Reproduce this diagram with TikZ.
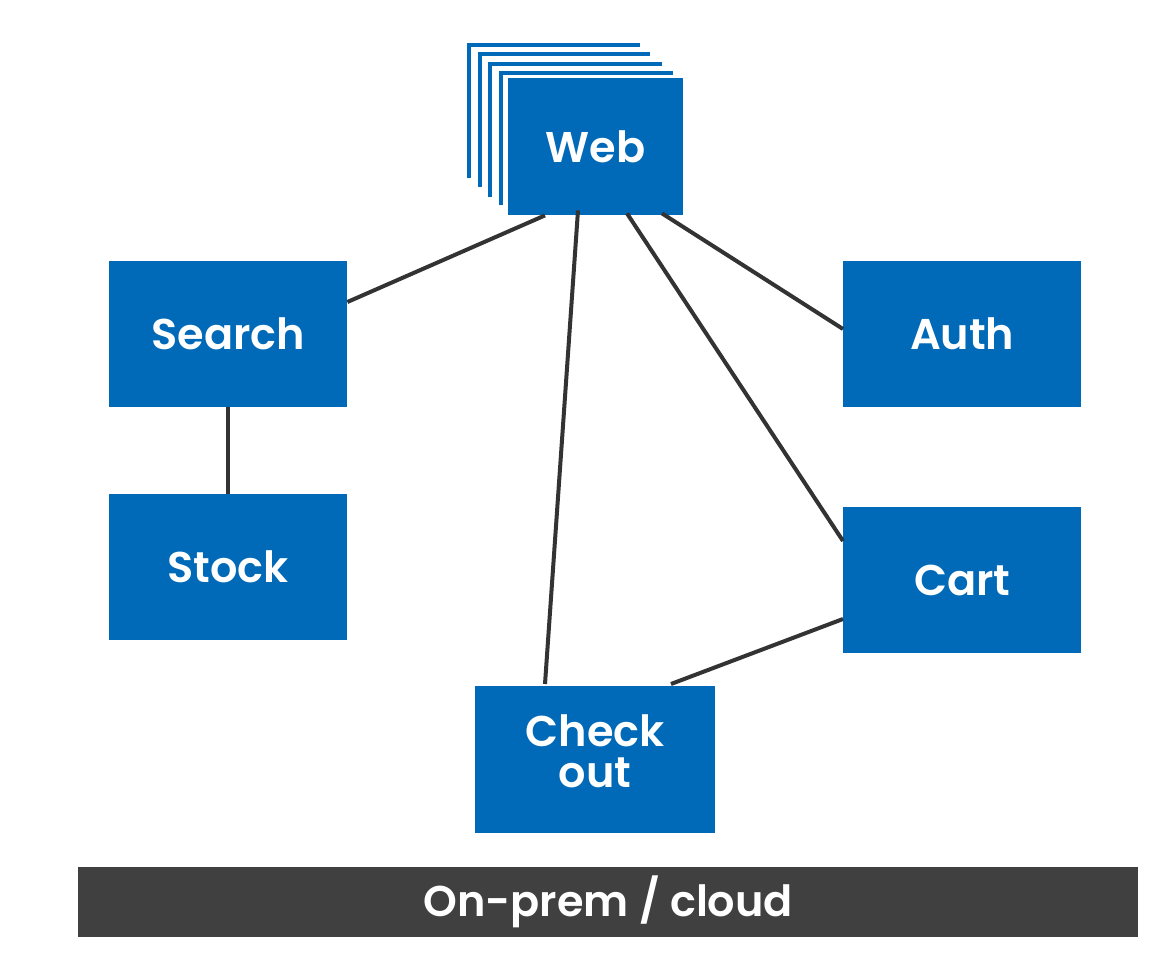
\documentclass[tikz,border=0pt]{standalone}
\usepackage{fontspec}
\setmainfont{Poppins SemiBold}
\definecolor{boxblue}{RGB}{0,106,184}
\definecolor{bargray}{RGB}{64,64,64}
\definecolor{linegray}{RGB}{51,51,51}
\begin{document}
\begin{tikzpicture}[x=1pt,y=-1pt,
  svc/.style={fill=boxblue,draw=none,text=white,font=\fontsize{43}{38}\selectfont,
    anchor=north west,inner sep=0pt,align=center,minimum width=238pt,minimum height=146pt},
  layer/.style={draw=boxblue,line width=4pt},
  link/.style={draw=linegray,line width=4pt}]
\useasboundingbox (0,0) rectangle (1171,966);
% stacked web layers (only left and top edges visible)
\draw[layer] (469,178) -- (469,45) -- (640,45);
\draw[layer] (480,187) -- (480,54) -- (650,54);
\draw[layer] (490,197) -- (490,64) -- (662,64);
\draw[layer] (501,205) -- (501,73) -- (673,73);
\node[svc,minimum width=175pt,minimum height=137pt] (web) at (508,78) {Web};
\node[svc] (search) at (109,261) {Search};
\node[svc] (stock) at (109,494) {Stock};
\node[svc] (auth) at (843,261) {Auth};
\node[svc] (cart) at (843,507) {Cart};
\node[svc,minimum width=240pt,minimum height=147pt] (checkout) at (475,686) {};
\node[text=white,font=\fontsize{43}{38}\selectfont,align=center,inner sep=0pt,anchor=center]
  (checkoutlabel) at ([yshift=8pt]checkout.center) {Check\\[3pt]out};
\node[fill=bargray,text=white,anchor=north west,inner sep=0pt,minimum width=1060pt,minimum height=70pt,
  font=\fontsize{43}{40}\selectfont] (bar) at (78,867) {On-prem / cloud};
% connectors
\coordinate (w1) at ([xshift=37pt]web.south west);
\coordinate (w2) at ([xshift=70pt,yshift=5pt]web.south west);
\coordinate (w3) at ([xshift=119pt,yshift=2pt]web.south west);
\coordinate (w4) at ([xshift=154pt,yshift=2pt]web.south west);
\draw[link] (w1) -- ([yshift=-41pt]search.north east);
\draw[link] (w2) -- ([xshift=70pt,yshift=2pt]checkout.north west);
\draw[link] (w3) -- ([yshift=-34pt]cart.north west);
\draw[link] (w4) -- ([yshift=-68pt]auth.north west);
\draw[link] (search.south) -- (stock.north);
\draw[link] ([yshift=-112pt]cart.north west) -- ([xshift=196pt,yshift=2pt]checkout.north west);
\end{tikzpicture}
\end{document}
